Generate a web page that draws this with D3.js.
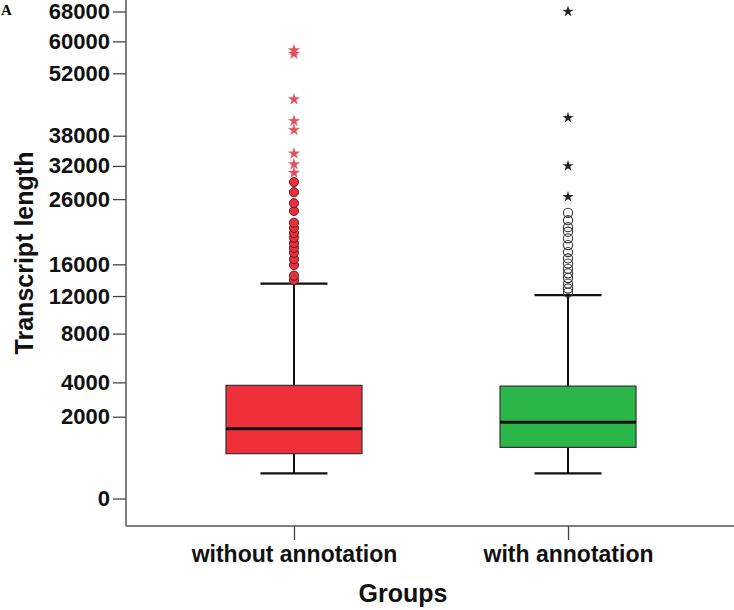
<!DOCTYPE html>
<html>
<head>
<meta charset="utf-8">
<script src="https://cdn.jsdelivr.net/npm/d3@7"></script>
<style>
  body { margin: 0; background: #fff; }
  svg { display: block; font-family: "Liberation Sans", Arial, sans-serif; }
</style>
</head>
<body>
<div id="chart"></div>
<script>
// groups and box summaries (transcript length)
var groups = ["without annotation", "with annotation"];
var whiskerLow = [195, 195];
var q1 = [610, 790];
var medians = [1460, 1740];
var q3 = [3800, 3750];
var whiskerHigh = [13500, 12100];

// outliers (circles) and extremes (stars)
var outliersA = [13950, 14500, 15900, 16700, 17600, 18300, 19000, 19800, 20500, 21300, 22100, 24000, 25300, 27200, 29000];
var extremesA = [30700, 32300, 34400, 39200, 41100, 45900, 56800, 57700];
var outliersB = [12400, 12900, 13500, 14200, 14800, 15400, 16100, 16800, 17700, 18700, 19700, 20700, 21400, 22500, 23700];
var extremesB = [26400, 32000, 41800, 68000];

var yTicks = [0, 2000, 4000, 8000, 12000, 16000, 26000, 32000, 38000, 52000, 60000, 68000];
var boxColors = ["#ef303b", "#2bb64a"];

var width = 734, height = 610;
var axisX = 126, axisBottom = 526;

var svg = d3.select("#chart").append("svg")
    .attr("width", width)
    .attr("height", height);

var y = d3.scalePow().exponent(0.506)
    .domain([0, 68000])
    .range([498.5, 11.5]);

var x = d3.scalePoint()
    .domain(groups)
    .range([axisX, 736])
    .padding(0.613);

var boxW = 136, capW = 67;

// panel letter
svg.append("text")
    .attr("x", 1).attr("y", 15)
    .attr("font-family", "Liberation Serif, serif")
    .attr("font-weight", "bold")
    .attr("font-size", 15)
    .text("A");

// y axis
var yAxis = svg.append("g")
    .attr("transform", "translate(" + axisX + ",0)")
    .call(d3.axisLeft(y).tickValues(yTicks).tickFormat(d3.format("d")).tickSize(13).tickSizeOuter(0).tickPadding(3));
yAxis.select(".domain").remove();
yAxis.selectAll("line").attr("stroke", "#444").attr("stroke-width", 1.3);
yAxis.selectAll("text")
    .attr("font-family", "Liberation Sans, Arial, sans-serif")
    .attr("font-weight", "bold")
    .attr("font-size", 22)
    .attr("fill", "#111");

// x axis
var xAxis = svg.append("g")
    .attr("transform", "translate(0," + axisBottom + ")")
    .call(d3.axisBottom(x).tickSize(14).tickSizeOuter(0).tickPadding(6));
xAxis.select(".domain").remove();
xAxis.selectAll("line").attr("stroke", "#444").attr("stroke-width", 1.3);
xAxis.selectAll("text")
    .attr("font-family", "Liberation Sans, Arial, sans-serif")
    .attr("font-weight", "bold")
    .attr("font-size", 23)
    .attr("fill", "#111");

// frame lines
svg.append("line")
    .attr("x1", axisX).attr("x2", axisX)
    .attr("y1", 0).attr("y2", axisBottom)
    .attr("stroke", "#555").attr("stroke-width", 1.5);
svg.append("line")
    .attr("x1", axisX).attr("x2", width)
    .attr("y1", axisBottom).attr("y2", axisBottom)
    .attr("stroke", "#555").attr("stroke-width", 1.5);

// axis titles
svg.append("text")
    .attr("transform", "translate(33," + 253 + ") rotate(-90)")
    .attr("text-anchor", "middle")
    .attr("font-weight", "bold")
    .attr("font-size", 25)
    .attr("fill", "#111")
    .text("Transcript length");

svg.append("text")
    .attr("x", 403)
    .attr("y", 602)
    .attr("text-anchor", "middle")
    .attr("font-weight", "bold")
    .attr("font-size", 25)
    .attr("fill", "#111")
    .text("Groups");

// boxes
var boxes = svg.append("g").selectAll("g")
    .data(groups)
    .enter()
    .append("g");

boxes.append("line")
    .attr("x1", function(d) { return x(d); })
    .attr("x2", function(d) { return x(d); })
    .attr("y1", function(d, i) { return y(whiskerHigh[i]); })
    .attr("y2", function(d, i) { return y(whiskerLow[i]); })
    .attr("stroke", "#111").attr("stroke-width", 2);

boxes.selectAll(".cap")
    .data(function(d, i) { return [[d, whiskerLow[i]], [d, whiskerHigh[i]]]; })
    .enter()
    .append("line")
    .attr("class", "cap")
    .attr("x1", function(d) { return x(d[0]) - capW / 2; })
    .attr("x2", function(d) { return x(d[0]) + capW / 2; })
    .attr("y1", function(d) { return y(d[1]); })
    .attr("y2", function(d) { return y(d[1]); })
    .attr("stroke", "#111").attr("stroke-width", 2.2);

boxes.append("rect")
    .attr("x", function(d) { return x(d) - boxW / 2; })
    .attr("width", boxW)
    .attr("y", function(d, i) { return y(q3[i]); })
    .attr("height", function(d, i) { return y(q1[i]) - y(q3[i]); })
    .attr("fill", function(d, i) { return boxColors[i]; })
    .attr("stroke", "#333").attr("stroke-width", 1.2);

boxes.append("line")
    .attr("x1", function(d) { return x(d) - boxW / 2; })
    .attr("x2", function(d) { return x(d) + boxW / 2; })
    .attr("y1", function(d, i) { return y(medians[i]); })
    .attr("y2", function(d, i) { return y(medians[i]); })
    .attr("stroke", "#111").attr("stroke-width", 3);

// outliers
var star = d3.symbol().type(d3.symbolStar).size(38);

svg.append("g").selectAll("circle")
    .data(outliersA)
    .enter()
    .append("circle")
    .attr("cx", x(groups[0]))
    .attr("cy", function(d) { return y(d); })
    .attr("r", 4.6)
    .attr("fill", "#e5303b")
    .attr("stroke", "#5a1418").attr("stroke-width", 0.9);

svg.append("g").selectAll("path")
    .data(extremesA)
    .enter()
    .append("path")
    .attr("d", star)
    .attr("transform", function(d) { return "translate(" + x(groups[0]) + "," + y(d) + ")"; })
    .attr("fill", "#e2505c")
    .attr("stroke", "#e2505c").attr("stroke-width", 0.4);

svg.append("g").selectAll("circle")
    .data(outliersB)
    .enter()
    .append("circle")
    .attr("cx", x(groups[1]))
    .attr("cy", function(d) { return y(d); })
    .attr("r", 4.6)
    .attr("fill", "none")
    .attr("stroke", "#333").attr("stroke-width", 1.1);

svg.append("g").selectAll("path")
    .data(extremesB)
    .enter()
    .append("path")
    .attr("d", star)
    .attr("transform", function(d) { return "translate(" + x(groups[1]) + "," + y(d) + ")"; })
    .attr("fill", "#222");
</script>
</body>
</html>
